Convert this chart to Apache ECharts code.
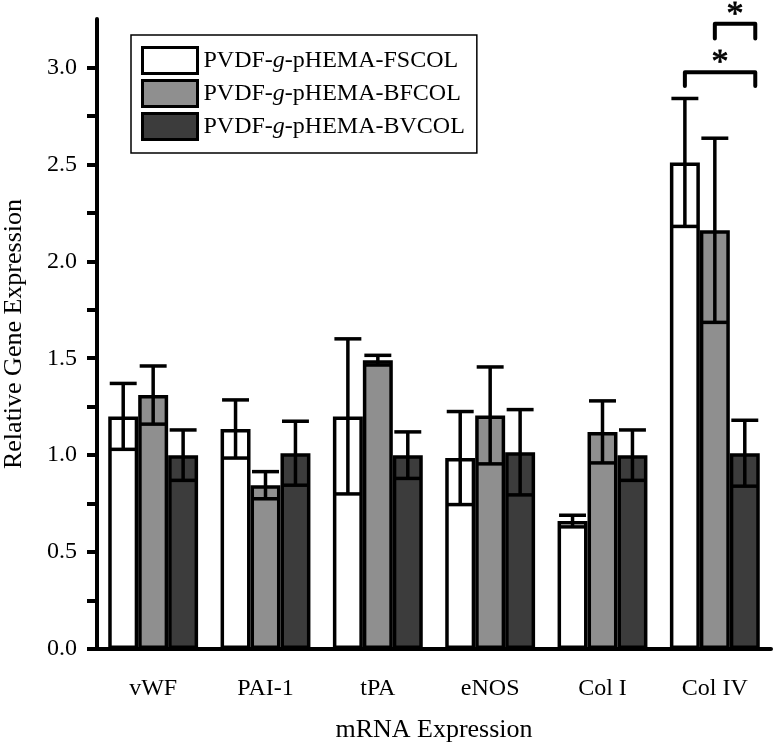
<!DOCTYPE html>
<html><head><meta charset="utf-8">
<script src="https://cdn.jsdelivr.net/npm/echarts@6/dist/echarts.min.js"></script>
<style>html,body{margin:0;padding:0;background:#fff}#c{width:774px;height:745px}</style>
</head><body><div id="c"></div>
<script>
const categories = ['vWF', 'PAI-1', 'tPA', 'eNOS', 'Col I', 'Col IV'];
const seriesNames = ['PVDF-g-pHEMA-FSCOL', 'PVDF-g-pHEMA-BFCOL', 'PVDF-g-pHEMA-BVCOL'];
const fscolMean = [1.20, 1.135, 1.20, 0.985, 0.66, 2.51];
const fscolErr  = [0.17, 0.15, 0.40, 0.24, 0.03, 0.33];
const bfcolMean = [1.31, 0.845, 1.49, 1.205, 1.12, 2.16];
const bfcolErr  = [0.15, 0.07, 0.025, 0.25, 0.16, 0.475];
const bvcolMean = [1.00, 1.01, 1.00, 1.015, 1.00, 1.01];
const bvcolErr  = [0.13, 0.165, 0.12, 0.22, 0.13, 0.17];
const yTickLabels = [0, 0.5, 1.0, 1.5, 2.0, 2.5, 3.0];
const yTicks = [0, 0.25, 0.5, 0.75, 1.0, 1.25, 1.5, 1.75, 2.0, 2.25, 2.5, 2.75, 3.0];
// significance brackets (Col IV)
const sigCategory = [5, 5];
const sigFromBar = [0, 1];
const sigToBar = [2, 2];
const sigLevel = [2.975, 3.225];
const sigLegEnd = [2.905, 3.15];
const sigMark = ['*', '*'];

const FONT = 'Liberation Serif';
const means = [fscolMean, bfcolMean, bvcolMean];
const errs = [fscolErr, bfcolErr, bvcolErr];
const colors = ['#ffffff', '#8f8f8f', '#3c3c3c'];

function barGeom(api, ci, barIdx) {
  const band = api.size([1, 0])[0];
  const bw = band * 0.8 / 3;
  const c = api.coord([ci, 0]);
  return { x: c[0] + (barIdx - 1) * bw, bw: bw };
}

function errRender(barIdx) {
  return function (params, api) {
    const ci = api.value(0), m = api.value(1), e = api.value(2);
    const g = barGeom(api, ci, barIdx);
    const yHi = api.coord([ci, m + e])[1];
    const yLo = api.coord([ci, m - e])[1];
    const hw = g.bw / 2 - 1.5;
    const st = { stroke: '#000', lineWidth: 3.5 };
    return { type: 'group', children: [
      { type: 'line', shape: { x1: g.x, y1: yHi, x2: g.x, y2: yLo }, style: st },
      { type: 'line', shape: { x1: g.x - hw, y1: yHi, x2: g.x + hw, y2: yHi }, style: st },
      { type: 'line', shape: { x1: g.x - hw, y1: yLo, x2: g.x + hw, y2: yLo }, style: st }
    ]};
  };
}

function sigRender(params, api) {
  const ci = api.value(0), fb = api.value(1), tb = api.value(2), lv = api.value(3), le = api.value(4);
  const a = barGeom(api, ci, fb), b = barGeom(api, ci, tb);
  const x1 = a.x, x2 = b.x + b.bw * 0.35;
  const y = api.coord([ci, lv])[1];
  const yl = api.coord([ci, le])[1];
  const st = { stroke: '#000', lineWidth: 4, lineJoin: 'round', lineCap: 'round', fill: null };
  return { type: 'group', children: [
    { type: 'polyline', shape: { points: [[x1, yl], [x1, y], [x2, y], [x2, yl]] }, style: st },
    { type: 'text', style: { text: sigMark[params.dataIndex], x: (x1 + x2) / 2, y: y - 17.5 + 8.5,
      align: 'center', verticalAlign: 'middle', font: '34px "' + FONT + '"', fill: '#000',
      stroke: '#000', lineWidth: 0.8 } }
  ]};
}

const series = [];
seriesNames.forEach((n, i) => {
  series.push({
    name: n, type: 'bar', data: means[i], barGap: '0%', barCategoryGap: '20%',
    itemStyle: { color: colors[i], borderColor: '#000', borderWidth: 3.5 }, z: 2
  });
});
seriesNames.forEach((n, i) => {
  series.push({
    name: 'err' + i, type: 'custom', renderItem: errRender(i), z: 3,
    encode: { x: 0, y: 1 },
    data: categories.map((c, k) => [k, means[i][k], errs[i][k]])
  });
});
series.push({
  name: 'sig', type: 'custom', renderItem: sigRender, z: 4, clip: false,
  encode: { x: 0, y: 3 },
  data: sigCategory.map((c, k) => [c, sigFromBar[k], sigToBar[k], sigLevel[k], sigLegEnd[k]])
});

const chart = echarts.init(document.getElementById('c'), null, { renderer: 'canvas' });
chart.setOption({
  backgroundColor: '#fff',
  animation: false,
  grid: { left: 97, right: 3, top: 19, bottom: 96, outerBoundsMode: 'none', containLabel: false },
  legend: {
    data: seriesNames, orient: 'vertical', left: 131, top: 35,
    padding: [11, 12, 12, 10], itemGap: 4, itemWidth: 55, itemHeight: 26,
    borderColor: '#000', borderWidth: 1.5, icon: 'rect',
    itemStyle: { borderColor: '#000', borderWidth: 3 },
    formatter: n => n.replace('-g-', '-{i|g}-'),
    textStyle: { fontFamily: FONT, fontSize: 24, color: '#000', padding: [0, 0, 0, 1],
      rich: { i: { fontFamily: FONT, fontSize: 24, fontStyle: 'italic', color: '#000' } } }
  },
  xAxis: {
    type: 'category', data: categories,
    name: 'mRNA Expression', nameLocation: 'middle', nameGap: 68,
    nameTextStyle: { fontFamily: FONT, fontSize: 26, color: '#000' },
    axisLine: { lineStyle: { color: '#000', width: 4 } },
    axisTick: { alignWithLabel: true, length: 15, lineStyle: { color: '#000', width: 4 } },
    axisLabel: { fontFamily: FONT, fontSize: 24, color: '#000', margin: 28 },
    splitLine: { show: false }
  },
  yAxis: {
    type: 'value', min: 0, max: 3.25, interval: 0.5,
    name: 'Relative Gene Expression', nameLocation: 'middle', nameGap: 70,
    nameTextStyle: { fontFamily: FONT, fontSize: 26, color: '#000' },
    axisLine: { show: true, lineStyle: { color: '#000', width: 4 } },
    axisTick: { show: true, length: 10, customValues: yTicks, lineStyle: { color: '#000', width: 4 } },
    axisLabel: { fontFamily: FONT, fontSize: 24, color: '#000', margin: 20,
      customValues: yTickLabels, formatter: v => v.toFixed(1) },
    splitLine: { show: false }
  },
  series: series
});
</script>
</body></html>
